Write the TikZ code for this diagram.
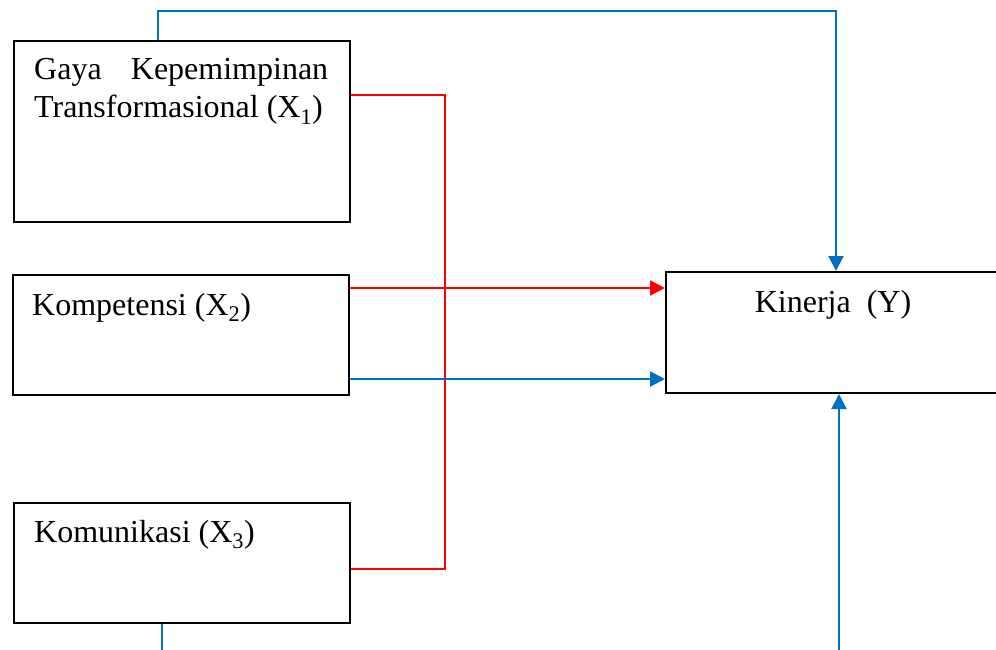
\documentclass[tikz,border=0pt]{standalone}
\usepackage{fontspec}
\setmainfont{Liberation Serif}
\usetikzlibrary{arrows.meta}
\definecolor{ablue}{RGB}{0,112,192}
\definecolor{ared}{RGB}{255,0,0}
\begin{document}
\begin{tikzpicture}[x=1pt,y=-1pt,
  box/.style={draw=black,line width=2pt,inner sep=0pt,anchor=north west},
  lbl/.style={inner sep=0pt,font=\fontsize{32}{38}\selectfont},
  blueline/.style={draw=ablue,line width=2.2pt},
  redline/.style={draw=ared,line width=1.8pt},
  tip/.style={-{Triangle[length=15pt,width=15pt]}}]
\useasboundingbox (0,0) rectangle (996,650);
% boxes
\node[box,minimum width=336pt,minimum height=181pt] (x1) at (13,40) {};
\node[box,minimum width=336pt,minimum height=120pt] (x2) at (11.5,274) {};
\node[box,minimum width=336pt,minimum height=120pt] (x3) at (13,502) {};
\node[box,minimum width=340pt,minimum height=121pt] (y) at (665,271) {};
% labels
\node[lbl,anchor=base west] (x1a) at (34,80) {\makebox[294pt][s]{Gaya\hfill Kepemimpinan}};
\node[lbl,anchor=base west] (x1b) at (34,118) {Transformasional (X\textsubscript{1})};
\node[lbl,anchor=base west] (x2t) at (32,315) {Kompetensi (X\textsubscript{2})};
\node[lbl,anchor=base west] (x3t) at (34,542) {Komunikasi (X\textsubscript{3})};
\node[lbl,anchor=base] (yt) at (833,312) {Kinerja\ \ (Y)};
% helper coordinates
\coordinate (t1) at (158,11);
\coordinate (r1) at (445,95);
\coordinate (r3) at (445,569);
\coordinate (ra) at (0,288);
\coordinate (ba) at (0,379);
\coordinate (b3) at (162,650);
\coordinate (b4) at (839,650);
% connectors
\draw[redline] (x1.east |- r1) -| (r3) -- (x3.east |- r3);
\draw[redline,line width=2.2pt,tip,ared] (x2.east |- ra) -- (y.west |- ra);
\draw[blueline,tip,ablue] (x2.east |- ba) -- (y.west |- ba);
\draw[blueline,tip,ablue] (t1 |- x1.north) -- (t1) -| (y.north);
\draw[blueline] (b3 |- x3.south) -- (b3);
\draw[blueline,tip,ablue] (b4) -- (b4 |- y.south);
\end{tikzpicture}
\end{document}
